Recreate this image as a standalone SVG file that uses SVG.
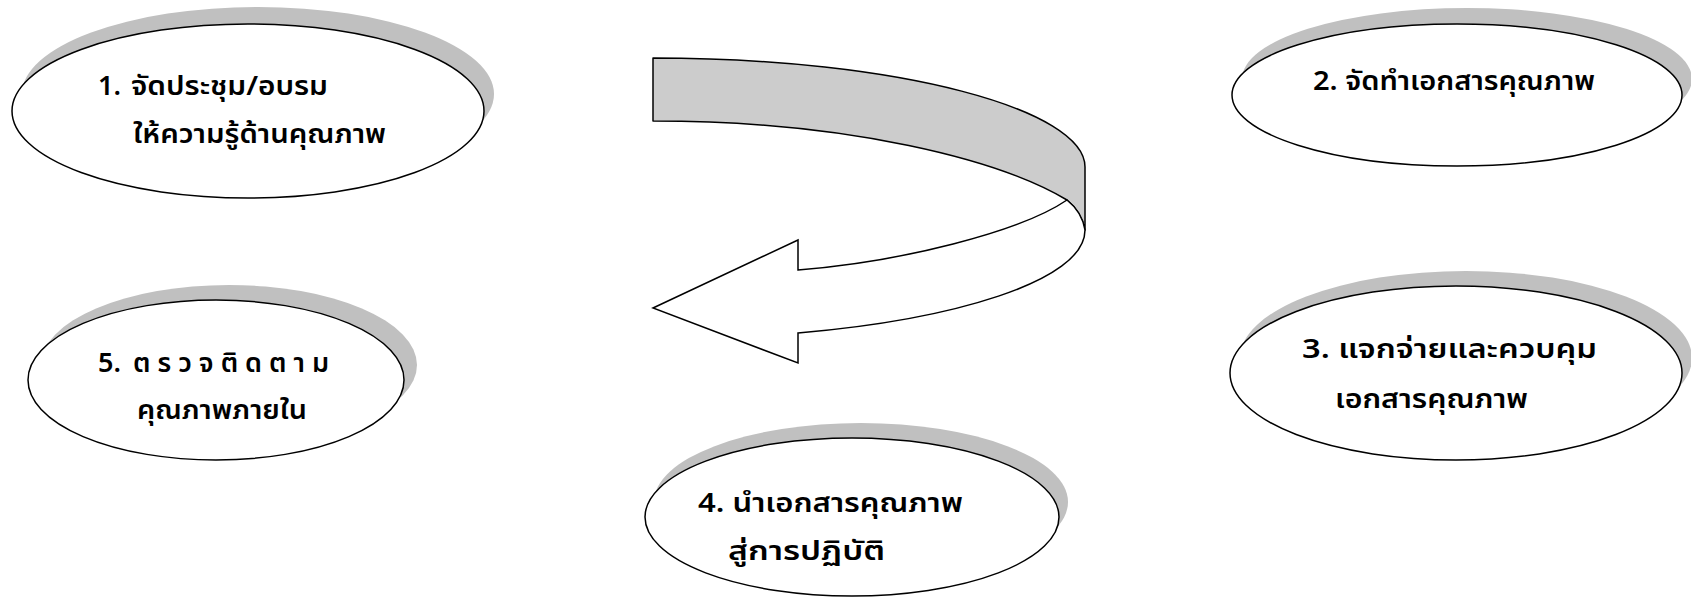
<svg xmlns="http://www.w3.org/2000/svg" width="1691" height="600" viewBox="0 0 1691 600">
<style>
.sh{fill:#c0c0c0;stroke:none}
.el{fill:#fff;stroke:#000;stroke-width:1.5}
.t{font-family:"Noto Sans Thai","Leelawadee UI","Tahoma","Noto Sans","DejaVu Sans",sans-serif;font-size:27px;font-weight:600;fill:#000}
.band{fill:#cccccc;stroke:#000;stroke-width:1.5;stroke-linejoin:round}
.arr{fill:#fff;stroke:#000;stroke-width:1.5;stroke-linejoin:miter}
</style>
<rect width="1691" height="600" fill="#fff"/>
<g id="connectors">
<path class="band" d="M653,58 C900,58 1085,110 1085,167 L1085,230 Q1082,212 1067,200 C1000,160 850,121 653,121 Z"/>
<path class="arr" d="M1067,200 C1020,232 900,262 798,270 L798,240 L653,308 L798,363 L798,333 C950,320 1085,282 1085,230 Q1082,212 1067,200 Z"/>
</g>
<g id="node1">
<ellipse class="sh" cx="258" cy="94" rx="236" ry="87"/>
<ellipse class="el" cx="248" cy="111" rx="236" ry="87"/>
<text class="t" y="95"><tspan x="98">1.</tspan><tspan x="131" textLength="197" lengthAdjust="spacingAndGlyphs">จัดประชุม/อบรม</tspan></text>
<text class="t" x="133" y="143" textLength="253" lengthAdjust="spacingAndGlyphs">ให้ความรู้ด้านคุณภาพ</text>
</g>
<g id="node2">
<ellipse class="sh" cx="1467" cy="79" rx="225" ry="71"/>
<ellipse class="el" cx="1457" cy="95" rx="225" ry="71"/>
<text class="t" x="1313" y="90" textLength="282" lengthAdjust="spacingAndGlyphs">2. จัดทำเอกสารคุณภาพ</text>
</g>
<g id="node3">
<ellipse class="sh" cx="1466" cy="358" rx="226" ry="87"/>
<ellipse class="el" cx="1456" cy="373" rx="226" ry="87"/>
<text class="t" x="1302" y="358" textLength="295" lengthAdjust="spacingAndGlyphs">3. แจกจ่ายและควบคุม</text>
<text class="t" x="1335" y="408" textLength="193" lengthAdjust="spacingAndGlyphs">เอกสารคุณภาพ</text>
</g>
<g id="node4">
<ellipse class="sh" cx="861" cy="502" rx="207" ry="79"/>
<ellipse class="el" cx="852" cy="517" rx="207" ry="79"/>
<text class="t" x="698" y="512" textLength="265" lengthAdjust="spacingAndGlyphs">4. นำเอกสารคุณภาพ</text>
<text class="t" x="728" y="560" textLength="157" lengthAdjust="spacingAndGlyphs">สู่การปฏิบัติ</text>
</g>
<g id="node5">
<ellipse class="sh" cx="229" cy="365" rx="188" ry="80"/>
<ellipse class="el" cx="216" cy="380" rx="188" ry="80"/>
<text class="t" x="98" y="372">5.<tspan x="133" letter-spacing="7">ตรวจติดตาม</tspan></text>
<text class="t" x="137" y="419" textLength="170" lengthAdjust="spacingAndGlyphs">คุณภาพภายใน</text>
</g>
</svg>
